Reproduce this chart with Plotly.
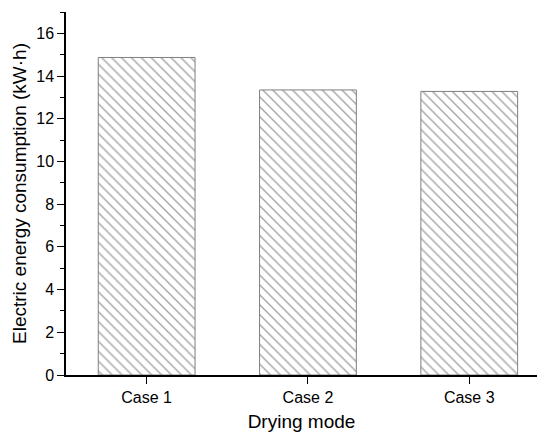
import plotly.graph_objects as go

categories = ["Case 1", "Case 2", "Case 3"]
values = [14.87, 13.35, 13.28]
y_ticks = [0, 2, 4, 6, 8, 10, 12, 14, 16]

fig = go.Figure()
fig.add_trace(go.Bar(
    x=categories,
    y=values,
    width=0.6,
    marker=dict(
        color="white",
        line=dict(color="#7f7f7f", width=1),
        pattern=dict(shape="\\", size=7, solidity=0.2, fgcolor="#4a4a4a", bgcolor="white"),
    ),
))

fig.update_layout(
    width=541,
    height=434,
    margin=dict(l=66, r=4, t=12, b=59),
    plot_bgcolor="white",
    paper_bgcolor="white",
    font=dict(family="Liberation Sans, Arial, sans-serif", color="black", size=16),
    showlegend=False,
    bargap=0.4,
)

fig.update_xaxes(
    range=[-0.5, 2.42],
    showline=True, linecolor="black", linewidth=1.5,
    ticks="outside", ticklen=7, tickwidth=1.2, tickcolor="black",
    showgrid=False, zeroline=False,
    tickfont=dict(size=16),
    title=dict(text="Drying mode", font=dict(size=19), standoff=10),
)
fig.update_yaxes(
    range=[0, 17],
    tickvals=y_ticks,
    showline=True, linecolor="black", linewidth=1.5,
    ticks="outside", ticklen=7, tickwidth=1.2, tickcolor="black",
    minor=dict(dtick=1, ticks="outside", ticklen=4, tickwidth=1.2, tickcolor="black", showgrid=False),
    showgrid=False, zeroline=False,
    tickfont=dict(size=16),
    title=dict(text="Electric energy consumption (kW·h)", font=dict(size=19), standoff=5),
)

fig.write_html("out.html")
